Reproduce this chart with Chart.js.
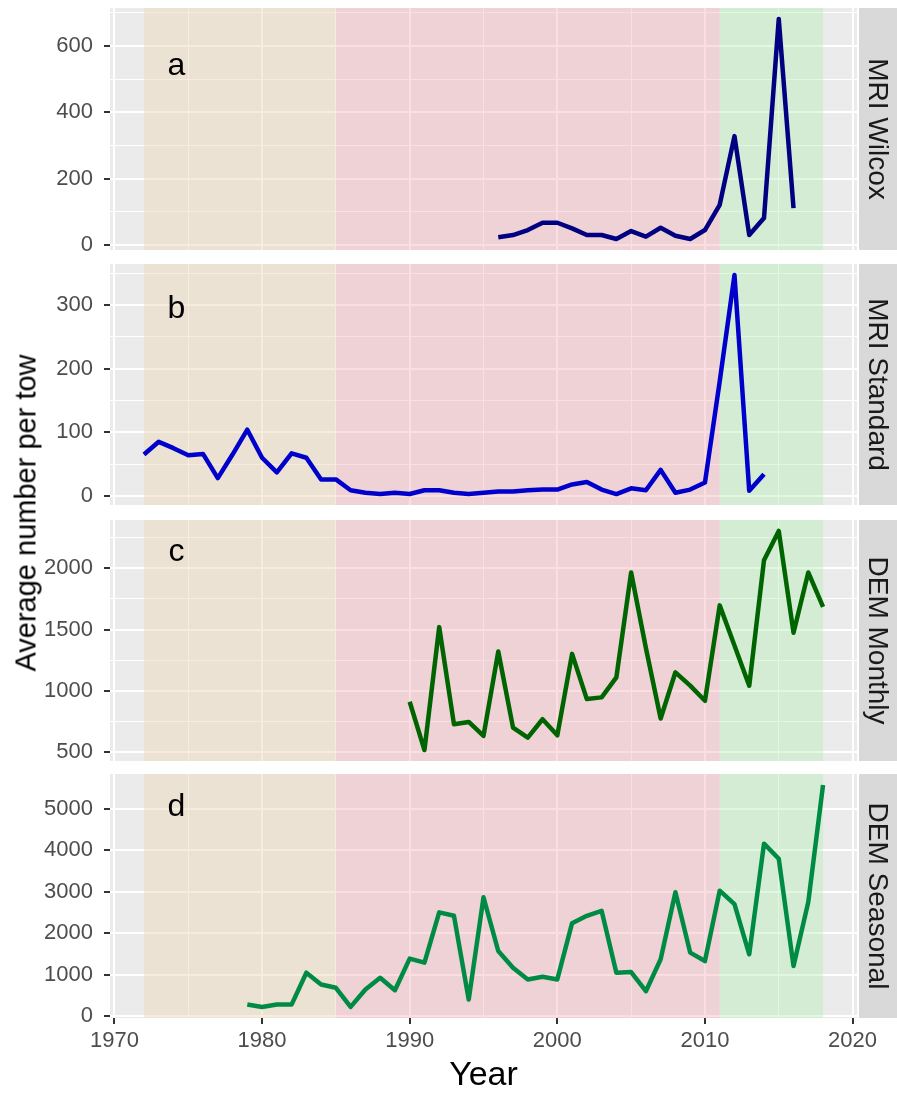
<!DOCTYPE html>
<html>
<head>
<meta charset="utf-8">
<title>Average number per tow</title>
<script src="https://cdn.jsdelivr.net/npm/chart.js"></script>
<style>
  body { margin: 0; background: #fff; font-family: "Liberation Sans", Arial, sans-serif; }
  #wrap { position: relative; width: 897px; height: 1093px; overflow: hidden; }
  #wrap canvas { position: absolute; left: 0; }
  #ytitle {
    position: absolute; left: 26px; top: 513px;
    transform: translate(-50%, -50%) rotate(-90deg);
    white-space: nowrap; font-size: 29px; color: #000;
  }
</style>
</head>
<body>
<div id="wrap">
  <canvas id="panel-a"></canvas>
  <canvas id="panel-b"></canvas>
  <canvas id="panel-c"></canvas>
  <canvas id="panel-d"></canvas>
  <div id="ytitle">Average number per tow</div>
</div>
<script>
// --- data ---------------------------------------------------------------
const wilcoxYears = [1996, 1997, 1998, 1999, 2000, 2001, 2002, 2003, 2004, 2005, 2006,
  2007, 2008, 2009, 2010, 2011, 2012, 2013, 2014, 2015, 2016];
const wilcoxValues = [23, 30, 45, 67, 67, 50, 30, 30, 18, 42, 25,
  52, 28, 18, 45, 121, 328, 30, 81, 681, 111];

const standardYears = [1972, 1973, 1974, 1975, 1976, 1977, 1978, 1979, 1980, 1981, 1982,
  1983, 1984, 1985, 1986, 1987, 1988, 1989, 1990, 1991, 1992, 1993, 1994, 1995, 1996,
  1997, 1998, 1999, 2000, 2001, 2002, 2003, 2004, 2005, 2006, 2007, 2008, 2009, 2010,
  2011, 2012, 2013, 2014];
const standardValues = [65, 85, 75, 64, 66, 28, 65, 104, 60, 37, 67,
  60, 26, 26, 9, 5, 3, 5, 3, 9, 9, 5, 3, 5, 7,
  7, 9, 10, 10, 18, 22, 10, 3, 12, 9, 41, 5, 10, 21,
  180, 347, 8, 34];

const monthlyYears = [1990, 1991, 1992, 1993, 1994, 1995, 1996, 1997, 1998, 1999, 2000,
  2001, 2002, 2003, 2004, 2005, 2006, 2007, 2008, 2009, 2010, 2011, 2012, 2013, 2014,
  2015, 2016, 2017, 2018];
const monthlyValues = [912, 519, 1520, 729, 748, 634, 1321, 702, 620, 770, 639,
  1302, 934, 948, 1111, 1965, 1350, 776, 1152, 1043, 920, 1697, 1370, 1043, 2065,
  2303, 1474, 1965, 1684];

const seasonalYears = [1979, 1980, 1981, 1982, 1983, 1984, 1985, 1986, 1987, 1988, 1989,
  1990, 1991, 1992, 1993, 1994, 1995, 1996, 1997, 1998, 1999, 2000, 2001, 2002, 2003,
  2004, 2005, 2006, 2007, 2008, 2009, 2010, 2011, 2012, 2013, 2014, 2015, 2016, 2017, 2018];
const seasonalValues = [283, 227, 283, 283, 1050, 767, 687, 227, 646, 929, 629,
  1388, 1291, 2501, 2419, 404, 2864, 1572, 1171, 888, 953, 888, 2242, 2419, 2540,
  1050, 1065, 605, 1372, 2985, 1534, 1331, 3024, 2702, 1493, 4154, 3791, 1210, 2750, 5564];

// shaded periods behind the series
const periodStarts = [1972, 1985, 2011];
const periodEnds = [1985, 2011, 2018];

// x axis ticks (labels on multiples of 10, minor grid on 5)
const yearTicks = [1970, 1975, 1980, 1985, 1990, 1995, 2000, 2005, 2010, 2015, 2020];

// panel strip names, letters and where the letters sit (data units)
const stripNames = ['MRI Wilcox', 'MRI Standard', 'DEM Monthly', 'DEM Seasonal'];
const panelLetters = ['a', 'b', 'c', 'd'];
const letterYear = 1974.2;
const letterValues = [511, 280, 2055, 4830];

// --- layout / style -------------------------------------------------------
const PAGE_W = 897, PAGE_H = 1093;
const PLOT_LEFT = 110, PLOT_RIGHT = 857;
const STRIP_LEFT = 859;
const X_MIN = 1969.7, X_MAX = 2020.3;
const FONT = '"Liberation Sans", Arial, sans-serif';
const periodColors = ['rgba(238,215,183,0.45)', 'rgba(242,177,183,0.42)', 'rgba(180,237,180,0.42)'];

const panels = [
  { id: 'panel-a', top: 8,   bottom: 250,  years: wilcoxYears,   values: wilcoxValues,   color: '#000080', major: 200,  minor: 100 },
  { id: 'panel-b', top: 264, bottom: 505,  years: standardYears, values: standardValues, color: '#0000CD', major: 100,  minor: 50 },
  { id: 'panel-c', top: 520, bottom: 761,  years: monthlyYears,  values: monthlyValues,  color: '#006400', major: 500,  minor: 250 },
  { id: 'panel-d', top: 774, bottom: 1018, years: seasonalYears, values: seasonalValues, color: '#008B45', major: 1000, minor: 500 }
];

// grey panel background
const panelBg = {
  id: 'panelBg',
  beforeDraw(chart) {
    const { ctx, chartArea: a } = chart;
    ctx.save();
    ctx.fillStyle = '#EBEBEB';
    ctx.fillRect(a.left, a.top, a.right - a.left, a.bottom - a.top);
    ctx.restore();
  }
};

// translucent period bands over the grid
const periodBands = {
  id: 'periodBands',
  beforeDatasetsDraw(chart) {
    const { ctx, chartArea: a, scales: { x } } = chart;
    ctx.save();
    ctx.beginPath();
    ctx.rect(a.left, a.top, a.right - a.left, a.bottom - a.top);
    ctx.clip();
    periodStarts.forEach((s, i) => {
      const x0 = x.getPixelForValue(s);
      const x1 = x.getPixelForValue(periodEnds[i]);
      ctx.fillStyle = periodColors[i];
      ctx.fillRect(x0, a.top, x1 - x0, a.bottom - a.top);
    });
    ctx.restore();
  }
};

// facet strip on the right and the panel letter
const panelText = {
  id: 'panelText',
  afterDraw(chart, args, opts) {
    const { ctx, chartArea: a, scales: { x, y } } = chart;
    ctx.save();
    ctx.fillStyle = '#D9D9D9';
    ctx.fillRect(STRIP_LEFT, a.top, PAGE_W - STRIP_LEFT, a.bottom - a.top);
    ctx.translate(877, (a.top + a.bottom) / 2);
    ctx.rotate(Math.PI / 2);
    ctx.fillStyle = '#1A1A1A';
    ctx.font = '28px ' + FONT;
    ctx.textAlign = 'center';
    ctx.textBaseline = 'middle';
    ctx.fillText(opts.strip, 0, 0);
    ctx.restore();

    ctx.save();
    ctx.fillStyle = '#000';
    ctx.font = '32px ' + FONT;
    ctx.textAlign = 'center';
    ctx.textBaseline = 'alphabetic';
    ctx.fillText(opts.letter, x.getPixelForValue(letterYear), y.getPixelForValue(opts.letterY));
    ctx.restore();
  }
};

function gridValues(lo, hi, step) {
  const out = [];
  for (let v = Math.ceil(lo / step) * step; v <= hi; v += step) out.push(v);
  return out;
}

// keep tick labels from shrinking the plotting area
function noScalePadding(s) {
  s.paddingTop = 0;
  s.paddingBottom = 0;
  s.paddingLeft = 0;
  s.paddingRight = 0;
}

panels.forEach((p, i) => {
  const isBottom = i === panels.length - 1;
  const padTop = 10;
  const padBottom = isBottom ? 0 : 10;
  const axisH = isBottom ? PAGE_H - p.bottom : 0;
  const canvas = document.getElementById(p.id);
  canvas.width = PAGE_W;
  canvas.height = (p.bottom - p.top) + padTop + padBottom + axisH;
  canvas.style.top = (p.top - padTop) + 'px';

  // free y range per panel, padded by 5% like the facet scales
  const dMin = Math.min(...p.values), dMax = Math.max(...p.values);
  const pad = (dMax - dMin) * 0.05;
  const lo = dMin - pad, hi = dMax + pad;

  new Chart(canvas.getContext('2d'), {
    type: 'line',
    data: {
      datasets: [{
        data: p.years.map((yr, k) => ({ x: yr, y: p.values[k] })),
        borderColor: p.color,
        borderWidth: 4.5,
        borderJoinStyle: 'round',
        pointRadius: 0,
        tension: 0,
        fill: false
      }]
    },
    options: {
      responsive: false,
      animation: false,
      events: [],
      layout: { padding: { top: padTop, bottom: padBottom, left: 0, right: PAGE_W - PLOT_RIGHT } },
      plugins: {
        legend: { display: false },
        tooltip: { enabled: false },
        panelText: { strip: stripNames[i], letter: panelLetters[i], letterY: letterValues[i] }
      },
      scales: {
        x: {
          type: 'linear',
          min: X_MIN,
          max: X_MAX,
          afterBuildTicks: s => { s.ticks = yearTicks.map(v => ({ value: v })); },
          afterFit: s => { s.height = axisH; noScalePadding(s); },
          border: { display: false },
          grid: {
            color: '#FFFFFF',
            lineWidth: c => (c.tick && c.tick.value % 10 === 0) ? 2 : 1,
            drawTicks: isBottom,
            tickLength: 6,
            tickWidth: 2,
            tickColor: c => (c.tick && c.tick.value % 10 === 0) ? '#333333' : 'rgba(0,0,0,0)'
          },
          ticks: {
            display: isBottom,
            autoSkip: false,
            maxRotation: 0,
            padding: 4,
            color: '#4D4D4D',
            font: { size: 22, family: FONT },
            callback: v => v % 10 === 0 ? String(v) : ''
          },
          title: {
            display: isBottom,
            text: 'Year',
            color: '#000',
            padding: { top: 0, bottom: 0 },
            font: { size: 34, family: FONT, lineHeight: 1.0 }
          }
        },
        y: {
          min: lo,
          max: hi,
          afterBuildTicks: s => { s.ticks = gridValues(lo, hi, p.minor).map(v => ({ value: v })); },
          afterFit: s => { s.width = PLOT_LEFT; noScalePadding(s); },
          border: { display: false },
          grid: {
            color: '#FFFFFF',
            lineWidth: c => (c.tick && c.tick.value % p.major === 0) ? 2 : 1,
            tickLength: 6,
            tickWidth: 2,
            tickColor: c => (c.tick && c.tick.value % p.major === 0) ? '#333333' : 'rgba(0,0,0,0)'
          },
          ticks: {
            padding: 11,
            color: '#4D4D4D',
            font: { size: 22, family: FONT },
            callback: v => v % p.major === 0 ? String(v) : ''
          }
        }
      }
    },
    plugins: [panelBg, periodBands, panelText]
  });
});
</script>
</body>
</html>
